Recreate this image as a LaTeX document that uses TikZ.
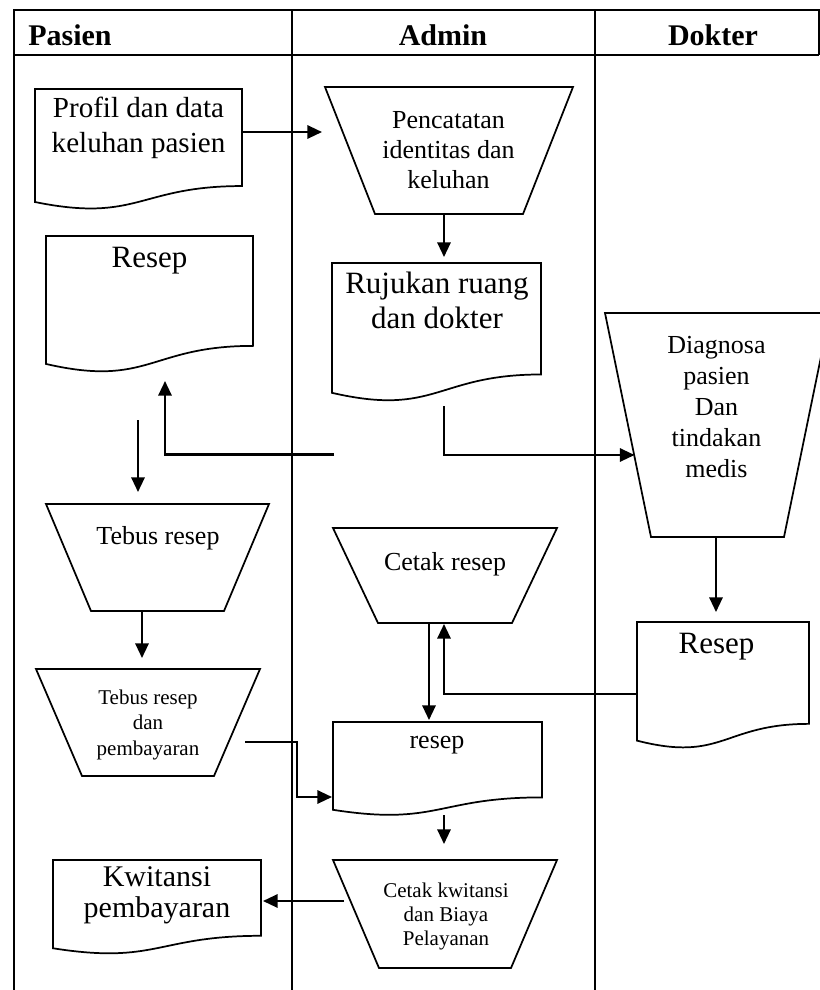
\documentclass[tikz,border=0pt]{standalone}
\usepackage{fontspec}
\setmainfont{Liberation Serif}
\usetikzlibrary{calc,arrows.meta}
% document symbol with the wavy bottom edge, drawn round a named frame node
\newcommand\docpath[1]{\draw[shape line] (#1.north west) -- (#1.north east)
  -- ($(#1.north east)!0.802!(#1.south east)$)
  .. controls ($(#1.north)!0.802!(#1.south)$) and ($(#1.north)!1.1075!(#1.south)$)
  .. ($(#1.north west)!0.934!(#1.south west)$) -- cycle;}
% manual-operation trapezium (wide side on top)
\newcommand\trappath[2]{\draw[shape line] (#1.north west) -- (#1.north east)
  -- ($(#1.south east)+(-#2,0)$) -- ($(#1.south west)+(#2,0)$) -- cycle;}
\tikzset{
  rule/.style={line width=1.7pt},
  shape line/.style={line width=1.3pt,line join=miter},
  arr/.style={line width=1.6pt,-{Triangle[length=11pt,width=10pt]}},
  frame/.style 2 args={draw=none,inner sep=0pt,outer sep=0pt,anchor=north west,
    minimum width=#1*0.75pt,minimum height=#2*0.75pt},
  txt/.style={inner sep=0pt,align=center,anchor=base},
  head/.style={inner sep=0pt,anchor=base,font=\fontsize{22.5pt}{26pt}\selectfont\bfseries},
}
\begin{document}
\begin{tikzpicture}[x=0.75pt,y=-0.75pt]
\useasboundingbox (0,0) rectangle (820,990);
\clip (0,0) rectangle (820,990);

% swimlane table
\draw[rule] (14,990) -- (14,10) -- (819,10) -- (819,55);
\draw[rule] (14,55) -- (819,55);
\draw[rule] (292,10) -- (292,990);
\draw[rule] (595,10) -- (595,990);
\node[head,anchor=base west] (hpas) at (28,45) {Pasien};
\node[head] (hadm) at (443,45) {Admin};
\node[head] (hdok) at (713,45) {Dokter};

% frames of the symbols
\node[frame={207}{121}] (prof) at (35,89) {};
\node[frame={207}{137}] (resepP) at (46,236) {};
\node[frame={209}{139}] (ruj) at (332,263) {};
\node[frame={172}{127}] (resepD) at (637,622) {};
\node[frame={209}{94}] (resepA) at (333,722) {};
\node[frame={208}{94.5}] (kwit) at (53,860) {};
\node[frame={248}{127}] (pen) at (325,87) {};
\node[frame={225}{224}] (diag) at (605,313) {};
\node[frame={223}{107}] (tebus) at (46,504) {};
\node[frame={224}{107}] (tebusbayar) at (36,669) {};
\node[frame={224}{95}] (cetak) at (333,528) {};
\node[frame={224}{108}] (cetakkw) at (333,860) {};

\docpath{prof}
\docpath{resepP}
\docpath{ruj}
\docpath{resepD}
\docpath{resepA}
\docpath{kwit}
\trappath{pen}{50}
\trappath{diag}{46}
\trappath{tebus}{45}
\trappath{tebusbayar}{46}
\trappath{cetak}{45}
\trappath{cetakkw}{46}

% texts (base = baseline of the last line)
\node[txt,font=\fontsize{21.8pt}{26.25pt}\selectfont] (tprof) at (138.5,152) {Profil dan data\\keluhan pasien};
\node[txt,font=\fontsize{23.25pt}{26pt}\selectfont] (tresepP) at (149.5,267) {Resep};
\node[txt,font=\fontsize{23.25pt}{26.25pt}\selectfont] (truj) at (437,328) {Rujukan ruang\\dan dokter};
\node[txt,font=\fontsize{23.25pt}{26pt}\selectfont] (tresepD) at (716.5,653) {Resep};
\node[txt,font=\fontsize{19.5pt}{22pt}\selectfont] (tresepA) at (437,748) {resep};
\node[txt,font=\fontsize{22.5pt}{23pt}\selectfont] (tkwit) at (157,917) {Kwitansi\\pembayaran};
\node[txt,font=\fontsize{19.5pt}{22.5pt}\selectfont] (tpen) at (448.5,188) {Pencatatan\\identitas dan\\keluhan};
\node[txt,font=\fontsize{19.5pt}{23.25pt}\selectfont] (tdiag) at (716.5,477) {Diagnosa\\pasien\\Dan\\tindakan\\medis};
\node[txt,font=\fontsize{19.5pt}{22pt}\selectfont] (ttebus) at (158,544) {Tebus resep};
\node[txt,font=\fontsize{15.75pt}{19pt}\selectfont] (ttebusbayar) at (148,755) {Tebus resep\\dan\\pembayaran};
\node[txt,font=\fontsize{19.5pt}{22pt}\selectfont] (tcetak) at (445,570) {Cetak resep};
\node[txt,font=\fontsize{15.75pt}{18pt}\selectfont] (tcetakkw) at (446,945) {Cetak kwitansi\\dan Biaya\\Pelayanan};

% flow
\draw[arr] ($(prof.east)+(0,-17.5)$) -- ($(prof.east -| pen.west)+(-3,-17.5)$);
\draw[arr] ($(pen.south)+(-5,0)$) coordinate (p1) -- ($(p1 |- ruj.north)+(0,-6)$);
\draw[arr] ($(ruj.south)+(7.5,4)$) |- ($(diag.west)+(29.5,30)$);
\draw[arr] ($(ruj.west)+(2,122)$) -| ($(resepP.south)+(15.5,8)$);
\draw[arr] ($(resepP.south)+(-11.5,47)$) coordinate (p2) -- ($(p2 |- tebus.north)+(0,-12)$);
\draw[arr] ($(tebus.south)+(-15.5,0)$) coordinate (p3) -- ($(p3 |- tebusbayar.north)+(0,-11)$);
\draw[arr] ($(tebusbayar.east)+(-15,19.5)$) -- ++(52,0) |- ($(resepA.west)+(-1,28)$);
\draw[arr] ($(cetak.south)+(-16,0)$) coordinate (p4) -- ($(p4 |- resepA.north)+(0,-2)$);
\draw[arr] ($(resepD.west)+(0,8.5)$) -| ($(cetak.south)+(-1,1)$);
\draw[arr] ($(diag.south)+(-1.5,1)$) coordinate (p5) -- ($(p5 |- resepD.north)+(0,-10)$);
\draw[arr] ($(resepA.south)+(6.5,-1)$) coordinate (p6) -- ($(p6 |- cetakkw.north)+(0,-16)$);
\draw[arr] ($(cetakkw.west)+(11,-13)$) coordinate (p7) -- ($(p7 -| kwit.east)+(2,0)$);
\end{tikzpicture}
\end{document}
